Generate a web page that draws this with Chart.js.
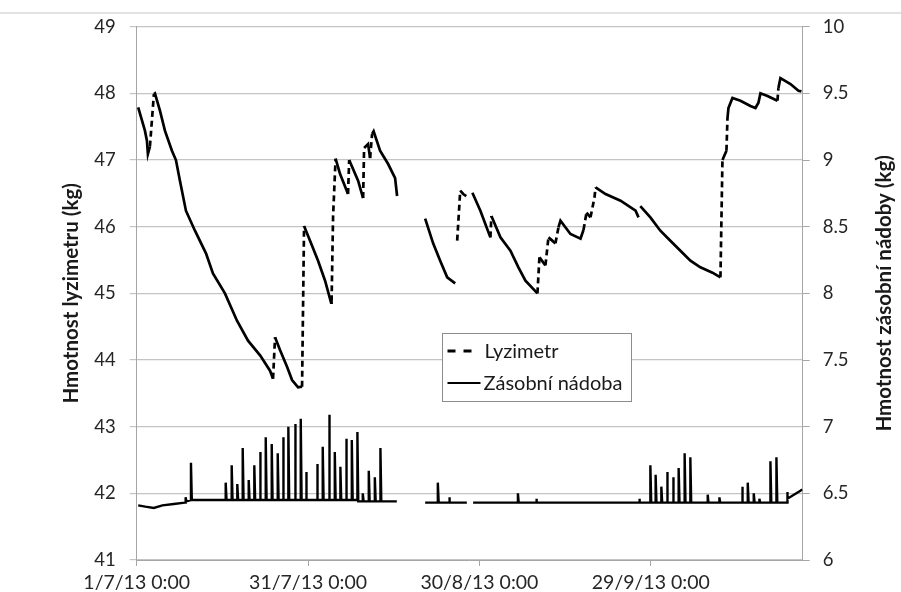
<!DOCTYPE html>
<html>
<head>
<meta charset="utf-8">
<script src="https://cdn.jsdelivr.net/npm/chart.js@4.4.1/dist/chart.umd.min.js"></script>
<style>
  html, body { margin: 0; padding: 0; background: #fff; }
  canvas { display: block; }
</style>
</head>
<body>
<canvas id="c" width="901" height="592"></canvas>
<script>
// Time axis: days since 1 July 2013 00:00
const xTickDays = [0, 30, 60, 90];
const xTickLabels = ['1/7/13 0:00', '31/7/13 0:00', '30/8/13 0:00', '29/9/13 0:00'];
const xMaxDay = 116.6;

// Lysimeter weight (kg), left axis; null = missing record
const lysDays = [
  0.26, 1.44, 1.79, 1.96, 2.31, 2.49, 3.01, 3.19, 4.07, 4.94, 6.17, 6.87, 7.57, 8.62, 10.2,
  12.13, 13.35, 15.45, 17.56, 19.49, 21.6, 23.34, 23.87, 24.22, 25.09, 26.32, 27.2, 28.25,
  28.95, 29.3, 30.35, 31.75, 32.98, 34.03, 34.12, 34.38, 34.82, 35.61, 37.0, 37.2, 38.76,
  39.64, 39.81, 40.51, 40.86, 41.21, 41.48, 42.61, 44.02, 45.24, 45.59,
  48.0,
  50.5, 51.9, 53.13, 54.36, 55.76, 55.9, 56.11, 56.64, 57.17, 57.7, 58.2, 58.77, 60.17,
  61.92, 62.1, 63.68, 65.43, 66.83, 68.06, 70.16, 70.51, 71.56, 72.09, 73.31, 73.84, 74.19,
  75.94, 77.7, 78.22, 78.75, 79.45, 80.15, 80.33, 82.08, 84.71, 87.34, 87.86, 88.0, 88.17,
  89.93, 91.68, 93.43, 95.19, 96.94, 98.69, 100.8, 102.2, 102.55, 103.25, 103.43, 103.6,
  104.3, 105.7, 107.45, 108.33, 108.85, 109.2, 110.43, 112.18, 112.35, 112.7, 114.46,
  115.86, 116.38
];
const lysKg = [
  47.79, 47.44, 47.29, 47.09, 47.2, 47.4, 47.99, 48.0, 47.74, 47.44, 47.14, 47.0, 46.69, 46.24, 45.94,
  45.6, 45.3, 45.0, 44.59, 44.29, 44.07, 43.84, 43.72, 44.34, 44.15, 43.9, 43.7, 43.59,
  43.6, 46.01, 45.79, 45.49, 45.19, 44.86, 44.88, 46.15, 47.02, 46.79, 46.49, 47.0, 46.69,
  46.43, 47.18, 47.24, 47.03, 47.39, 47.43, 47.14, 46.94, 46.73, 46.46,
  null,
  46.12, 45.75, 45.49, 45.24, 45.15, null, 45.79, 46.54, 46.49, 46.46, null, 46.51, 46.24,
  45.84, 46.16, 45.84, 45.64, 45.39, 45.19, 45.0, 45.54, 45.42, 45.84, 45.75, 45.99, 46.09,
  45.89, 45.82, 45.95, 46.21, 46.14, 46.44, 46.59, 46.49, 46.39, 46.24, 46.14, null, 46.31,
  46.14, 45.94, 45.79, 45.64, 45.49, 45.39, 45.31, 45.24, 47.0, 47.14, 47.63, 47.78,
  47.93, 47.89, 47.81, 47.78, 47.86, 48.0, 47.96, 47.89, 48.08, 48.23, 48.14,
  48.04, 48.03
];

// Supply vessel weight (kg), right axis; spikes are refill events
const zasDays = [
  0.26, 1.5, 3.0, 4.5, 6.5, 8.4,
  8.57, 8.57, 8.7,
  9.5, 9.5, 9.65,
  15.58, 15.58, 15.73,
  16.63, 16.63, 16.78,
  17.61, 17.61, 17.76,
  18.56, 18.56, 18.71,
  19.61, 19.61, 19.76,
  20.59, 20.59, 20.74,
  21.59, 21.59, 21.74,
  22.59, 22.59, 22.74,
  23.64, 23.64, 23.79,
  24.69, 24.69, 24.84,
  25.62, 25.62, 25.77,
  26.55, 26.55, 26.7,
  27.72, 27.72, 27.87,
  28.72, 28.72, 28.87,
  29.65, 29.65, 29.8,
  31.58, 31.58, 31.73,
  32.57, 32.57, 32.72,
  33.68, 33.68, 33.83,
  34.68, 34.68, 34.83,
  35.66, 35.66, 35.81,
  36.66, 36.66, 36.81,
  37.66, 37.66, 37.81,
  38.64, 38.64, 38.79,
  39.58, 39.58, 39.73,
  40.63, 40.63, 40.78,
  41.69, 41.69, 41.84,
  42.67, 42.67, 42.82,
  45.54,
  48.0,
  50.5,
  52.72, 52.72, 52.87,
  54.71, 54.71, 54.85,
  57.8, 58.3, 58.9,
  66.74, 66.74, 66.88,
  69.95, 69.95, 70.08,
  88.0, 88.0, 88.1,
  89.93, 89.93, 90.08,
  90.85, 90.85, 91.0,
  91.85, 91.85, 92.0,
  92.85, 92.85, 93.0,
  93.9, 93.9, 94.05,
  94.88, 94.88, 95.03,
  95.93, 95.93, 96.08,
  96.93, 96.93, 97.08,
  99.97, 99.97, 100.1,
  102.02, 102.02, 102.15,
  105.99, 105.99, 106.14,
  106.98, 106.98, 107.13,
  108.03, 108.03, 108.18,
  109.02, 109.02, 109.15,
  110.95, 110.95, 111.1,
  112.0, 112.0, 112.15,
  113.23,
  113.87, 113.87, 114.0,
  116.2, 116.5
];
const zasKg = [
  6.41, 6.40, 6.39, 6.41, 6.42, 6.43,
  6.43, 6.47, 6.44,
  6.45, 6.73, 6.45,
  6.45, 6.58, 6.45,
  6.45, 6.71, 6.45,
  6.45, 6.57, 6.45,
  6.45, 6.84, 6.45,
  6.45, 6.60, 6.45,
  6.45, 6.71, 6.45,
  6.45, 6.81, 6.45,
  6.45, 6.92, 6.45,
  6.45, 6.87, 6.45,
  6.45, 6.80, 6.45,
  6.45, 6.92, 6.45,
  6.45, 7.00, 6.45,
  6.45, 7.02, 6.45,
  6.45, 7.06, 6.45,
  6.45, 6.66, 6.45,
  6.45, 6.72, 6.45,
  6.45, 6.85, 6.45,
  6.45, 7.09, 6.45,
  6.45, 6.81, 6.45,
  6.45, 6.70, 6.45,
  6.45, 6.91, 6.45,
  6.45, 6.90, 6.45,
  6.45, 6.96, 6.44,
  6.44, 6.50, 6.44,
  6.44, 6.67, 6.44,
  6.44, 6.62, 6.44,
  6.44, 6.84, 6.44,
  6.44,
  null,
  6.43,
  6.43, 6.58, 6.43,
  6.43, 6.47, 6.43,
  6.43, null, 6.43,
  6.43, 6.50, 6.43,
  6.43, 6.46, 6.43,
  6.43, 6.46, 6.43,
  6.43, 6.71, 6.43,
  6.43, 6.64, 6.43,
  6.43, 6.55, 6.43,
  6.43, 6.66, 6.43,
  6.43, 6.62, 6.43,
  6.43, 6.69, 6.43,
  6.43, 6.80, 6.43,
  6.43, 6.77, 6.43,
  6.43, 6.49, 6.43,
  6.43, 6.47, 6.43,
  6.43, 6.55, 6.43,
  6.43, 6.58, 6.43,
  6.43, 6.50, 6.43,
  6.43, 6.46, 6.43,
  6.43, 6.74, 6.43,
  6.43, 6.77, 6.43,
  6.43,
  6.43, 6.51, 6.46,
  6.52, 6.53
];

const leftTitle = 'Hmotnost lyzimetru (kg)';
const rightTitle = 'Hmotnost zásobní nádoby (kg)';
const seriesNames = ['Lyzimetr', 'Zásobní nádoba'];

const toPoints = (days, vals) => days.map((d, i) => ({ x: d, y: vals[i] }));

const FONT = 'Lato, "Open Sans", sans-serif';
const TEXT = '#262626';
const GRID = '#c4c4c4';
const AXIS = '#a6a6a6';

// Light frame line across the top of the figure
const framePlugin = {
  id: 'frame',
  beforeDraw(chart) {
    const { ctx, width } = chart;
    ctx.save();
    ctx.fillStyle = '#fff';
    ctx.fillRect(0, 0, width, chart.height);
    ctx.strokeStyle = '#d9d9d9';
    ctx.lineWidth = 1.5;
    ctx.beginPath();
    ctx.moveTo(0, 13);
    ctx.lineTo(width, 13);
    ctx.stroke();
    ctx.restore();
  }
};

// Both axis titles read bottom-to-top
const axisTitlePlugin = {
  id: 'axisTitles',
  afterDraw(chart) {
    const { ctx, chartArea } = chart;
    const cy = (chartArea.top + chartArea.bottom) / 2;
    ctx.save();
    ctx.font = 'bold 20.5px ' + FONT;
    ctx.fillStyle = '#1a1a1a';
    ctx.textAlign = 'center';
    ctx.textBaseline = 'middle';
    [[71, leftTitle], [chartArea.right + 82, rightTitle]].forEach(([x, t]) => {
      ctx.save();
      ctx.translate(x, cy);
      ctx.rotate(-Math.PI / 2);
      ctx.fillText(t, 0, 0);
      ctx.restore();
    });
    ctx.restore();
  }
};

// Boxed legend inside the plot area
const boxLegendPlugin = {
  id: 'boxLegend',
  afterDatasetsDraw(chart) {
    const { ctx, chartArea } = chart;
    const w = chartArea.right - chartArea.left;
    const h = chartArea.bottom - chartArea.top;
    const bx = Math.round(chartArea.left + 0.458 * w) + 0.5;
    const by = Math.round(chartArea.top + 0.575 * h) + 0.5;
    const bw = 189, bh = 68;
    ctx.save();
    ctx.fillStyle = '#fff';
    ctx.fillRect(bx, by, bw, bh);
    ctx.strokeStyle = '#8c8c8c';
    ctx.lineWidth = 1;
    ctx.strokeRect(bx, by, bw, bh);

    ctx.strokeStyle = '#000';
    ctx.lineWidth = 3;
    ctx.setLineDash([8, 8]);
    ctx.beginPath();
    ctx.moveTo(bx + 5, by + 17.5);
    ctx.lineTo(bx + 30, by + 17.5);
    ctx.stroke();

    ctx.setLineDash([]);
    ctx.lineWidth = 2;
    ctx.beginPath();
    ctx.moveTo(bx + 5, by + 49.5);
    ctx.lineTo(bx + 38, by + 49.5);
    ctx.stroke();

    ctx.font = '20px ' + FONT;
    ctx.fillStyle = '#1a1a1a';
    ctx.textAlign = 'left';
    ctx.textBaseline = 'middle';
    ctx.fillText(seriesNames[0], bx + 42, by + 18);
    ctx.fillText(seriesNames[1], bx + 41, by + 50);
    ctx.restore();
  }
};

const noPad = s => { s.paddingTop = 0; s.paddingBottom = 0; s.paddingLeft = 0; s.paddingRight = 0; };

new Chart(document.getElementById('c'), {
  type: 'line',
  data: {
    datasets: [
      {
        label: seriesNames[0],
        data: toPoints(lysDays, lysKg),
        yAxisID: 'y',
        borderColor: '#000',
        borderWidth: 2.7,
        pointRadius: 0,
        tension: 0,
        spanGaps: false,
        segment: {
          // quick rises (irrigation / rain) are drawn dashed
          borderDash: c => (c.p1.parsed.y - c.p0.parsed.y > 0.15 ? [6, 4] : undefined)
        }
      },
      {
        label: seriesNames[1],
        data: toPoints(zasDays, zasKg),
        yAxisID: 'y1',
        borderColor: '#000',
        borderWidth: 2.4,
        pointRadius: 0,
        tension: 0,
        spanGaps: false
      }
    ]
  },
  options: {
    responsive: false,
    animation: false,
    layout: { padding: { top: 26.7, left: 0, right: 0, bottom: 0 } },
    plugins: { legend: { display: false }, tooltip: { enabled: false } },
    scales: {
      x: {
        type: 'linear',
        min: 0,
        max: xMaxDay,
        afterBuildTicks: s => { s.ticks = xTickDays.map(v => ({ value: v })); },
        afterFit: s => { s.height = 32; noPad(s); },
        grid: { drawOnChartArea: false, drawTicks: true, tickLength: 6, color: AXIS },
        border: { display: true, color: AXIS, width: 1 },
        ticks: {
          padding: 5,
          maxRotation: 0,
          autoSkip: false,
          color: TEXT,
          font: { family: FONT, size: 19.5 },
          callback: v => xTickLabels[xTickDays.indexOf(v)]
        }
      },
      y: {
        position: 'left',
        min: 41,
        max: 49,
        afterBuildTicks: s => { s.ticks = [41, 42, 43, 44, 45, 46, 47, 48, 49].map(v => ({ value: v })); },
        afterFit: s => { s.width = 136.7; noPad(s); },
        grid: { color: GRID, lineWidth: 1.2, tickLength: 7, drawTicks: true },
        border: { display: true, color: AXIS, width: 1 },
        ticks: {
          padding: 14,
          color: TEXT,
          font: { family: FONT, size: 18.5 },
          callback: v => String(v)
        }
      },
      y1: {
        position: 'right',
        min: 6,
        max: 10,
        afterBuildTicks: s => { s.ticks = [6, 6.5, 7, 7.5, 8, 8.5, 9, 9.5, 10].map(v => ({ value: v })); },
        afterFit: s => { s.width = 98.3; noPad(s); },
        grid: { drawOnChartArea: false, color: AXIS, tickLength: 7, drawTicks: true },
        border: { display: true, color: AXIS, width: 1 },
        ticks: {
          padding: 13,
          color: TEXT,
          font: { family: FONT, size: 18.5 },
          callback: v => String(v)
        }
      }
    }
  },
  plugins: [framePlugin, boxLegendPlugin, axisTitlePlugin]
});
</script>
</body>
</html>
